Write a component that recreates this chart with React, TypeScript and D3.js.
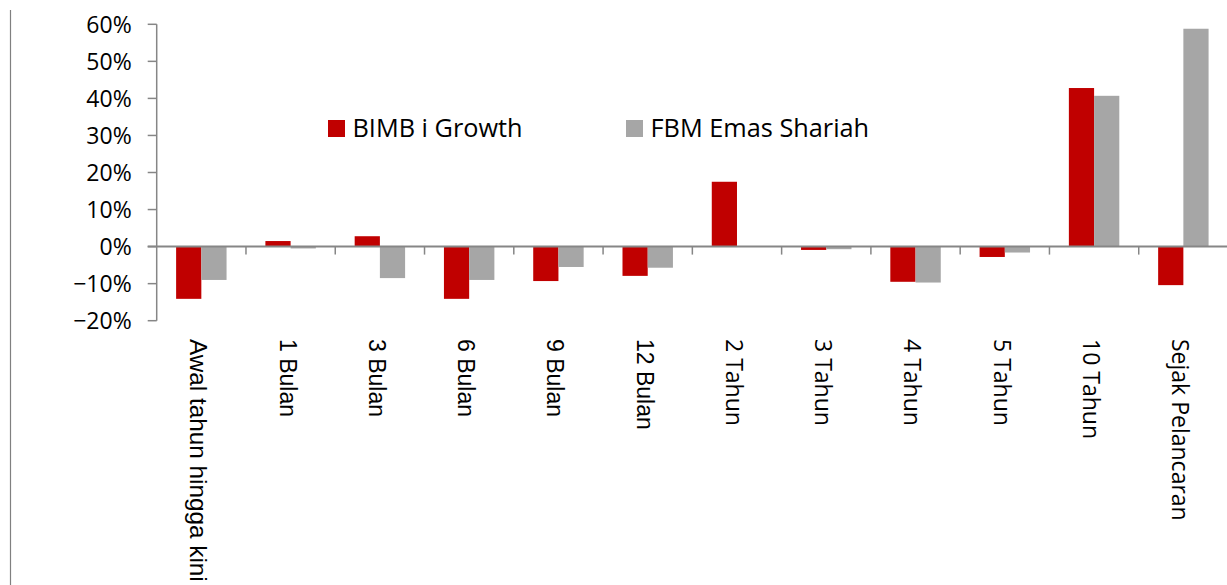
import React from "react";
import * as d3 from "d3";

const categories = [
  "Awal tahun hingga kini",
  "1 Bulan",
  "3 Bulan",
  "6 Bulan",
  "9 Bulan",
  "12 Bulan",
  "2 Tahun",
  "3 Tahun",
  "4 Tahun",
  "5 Tahun",
  "10 Tahun",
  "Sejak Pelancaran",
];

const seriesNames = ["BIMB i Growth", "FBM Emas Shariah"];
const seriesColors = ["#C00000", "#A6A6A6"];

// returns as fractions
const bimbValues = [-0.141, 0.015, 0.028, -0.141, -0.093, -0.079, 0.175, -0.009, -0.095, -0.028, 0.428, -0.104];
const fbmValues = [-0.09, -0.005, -0.085, -0.09, -0.055, -0.057, 0, -0.007, -0.097, -0.016, 0.407, 0.588];

const yTicks = [-0.2, -0.1, 0, 0.1, 0.2, 0.3, 0.4, 0.5, 0.6];

// the first six labels were set in a different face in the original
const arialLabels = 6;

const W = 1227;
const H = 585;
const axisColor = "#868686";
const calibriLike = "'Open Sans', sans-serif";

const App = () => {
  const plotLeft = 156.7;
  const plotRight = 1228;

  const x0 = d3.scaleBand<string>().domain(categories).range([plotLeft, plotRight]).padding(0);
  const x1 = d3
    .scaleBand<number>()
    .domain([0, 1])
    .range([0, x0.bandwidth()])
    .paddingInner(0)
    .paddingOuter(0.77);
  const y = d3.scaleLinear().domain([-0.2, 0.6]).range([320.7, 24.3]);
  const fmt = d3.format(".0%");

  const series = [bimbValues, fbmValues];

  return (
    <svg
      width={W}
      height={H}
      style={{ position: "absolute", left: 0, top: 0, background: "#fff" }}
    >
      {/* stray frame line on the left */}
      <line x1={10.5} x2={10.5} y1={10} y2={H} stroke="#808080" strokeWidth={1.2} />

      {/* y axis */}
      <line x1={plotLeft} x2={plotLeft} y1={y(0.6)} y2={y(-0.2)} stroke={axisColor} strokeWidth={1.5} />
      {yTicks.map((t) => (
        <g key={t}>
          <line x1={plotLeft - 9} x2={plotLeft} y1={y(t)} y2={y(t)} stroke={axisColor} strokeWidth={1.5} />
          <text
            x={131.7}
            y={y(t)}
            dy="0.36em"
            textAnchor="end"
            fontFamily={calibriLike}
            fontSize={23}
            fill="#000"
          >
            {fmt(t)}
          </text>
        </g>
      ))}

      {/* bars */}
      {series.map((vals, si) =>
        vals.map((v, i) => {
          const bx = (x0(categories[i]) ?? 0) + (x1(si) ?? 0);
          const top = y(Math.max(0, v));
          const h = Math.abs(y(v) - y(0));
          if (h < 0.01) return null;
          return (
            <rect
              key={`${si}-${i}`}
              x={bx}
              y={top}
              width={x1.bandwidth()}
              height={h}
              fill={seriesColors[si]}
            />
          );
        })
      )}

      {/* x axis */}
      <line x1={plotLeft - 9} x2={W} y1={y(0)} y2={y(0)} stroke={axisColor} strokeWidth={2} />
      {categories.slice(1).map((c) => (
        <line
          key={c}
          x1={x0(c) ?? 0}
          x2={x0(c) ?? 0}
          y1={y(0)}
          y2={y(0) + 8}
          stroke={axisColor}
          strokeWidth={1.5}
        />
      ))}

      {/* category labels, rotated to read downward */}
      {categories.map((c, i) => {
        const cx = (x0(c) ?? 0) + x0.bandwidth() / 2 - 3;
        const ty = 339;
        return (
          <text
            key={c}
            transform={`translate(${cx},${ty}) rotate(90)`}
            dy="0.35em"
            textAnchor="start"
            fontFamily={i < arialLabels ? "'Liberation Sans', Arial, sans-serif" : calibriLike}
            fontSize={i === 0 ? 24.3 : 23}
            fill="#000"
          >
            {c}
          </text>
        );
      })}

      {/* legend */}
      {seriesNames.map((name, si) => {
        const lx = [328, 626][si];
        return (
          <g key={name}>
            <rect x={lx} y={120} width={17} height={17} fill={seriesColors[si]} />
            <text x={lx + 24.5} y={136.7} fontFamily={calibriLike} fontSize={25.3} fill="#000">
              {name}
            </text>
          </g>
        );
      })}
    </svg>
  );
};

export default App;
